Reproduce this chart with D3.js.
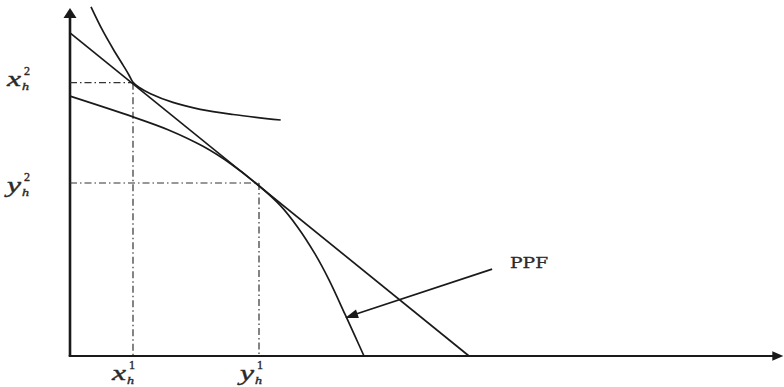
<!DOCTYPE html>
<html>
<head>
<meta charset="utf-8">
<script src="https://cdn.jsdelivr.net/npm/d3@7"></script>
<style>
  html, body { margin: 0; padding: 0; background: #fff; }
  svg { display: block; }
</style>
</head>
<body>
<svg id="chart" width="784" height="387"></svg>
<script>
// ---- Data (in abstract chart units 0..100) ----
const axisExtent = { x: 101.9, y: 100.6 };

// Budget / price line
const budgetLine = [[0, 93.4], [57.0, 0]];

// Production possibility frontier (concave)
const ppfX = [0, 9.0, 14.0, 19.0, 23.0, 27.0, 30.0, 32.5, 35.0, 37.0, 39.3, 40.7, 42.0];
const ppfY = [75.1, 69.1, 65.4, 60.6, 55.5, 49.2, 43.6, 37.3, 29.5, 22.0, 12.0, 5.8, 0];

// Indifference curve
const icX = [3.0, 4.6, 6.2, 7.6, 8.4, 9.0, 9.9, 11.5, 14.7, 18.6, 23.3, 30.1];
const icY = [100.9, 94.3, 88.6, 84.0, 81.3, 79.1, 77.6, 75.8, 73.3, 71.3, 69.8, 68.2];

// Tangency points (consumption x_h, production y_h)
const tangentX = [9.0, 27.0];        // x_h^1, y_h^1 on horizontal axis
const tangentY = [79.0, 50.0];       // x_h^2, y_h^2 on vertical axis
const xTickLabels = [{ main: "x", sup: "1" }, { main: "y", sup: "1" }];
const yTickLabels = [{ main: "x", sup: "2" }, { main: "y", sup: "2" }];

// PPF annotation arrow: from label to curve
const ppfArrow = [[60.3, 25.1], [39.3, 11.0]];
const ppfLabel = "PPF";

// ---- Scales ----
const svg = d3.select("#chart");
const x = d3.scaleLinear().domain([0, 100]).range([70, 770]);
const y = d3.scaleLinear().domain([0, 100]).range([356, 10]);

const ink = "#1a1a1a";

function arrowHead(x1, y1, x2, y2, len, half) {
  const a = Math.atan2(y2 - y1, x2 - x1);
  const bx = x2 - len * Math.cos(a), by = y2 - len * Math.sin(a);
  const px = -Math.sin(a) * half, py = Math.cos(a) * half;
  return `M${x2},${y2}L${bx + px},${by + py}L${bx - px},${by - py}Z`;
}

// ---- Axes ----
svg.append("line")
  .attr("x1", x(0)).attr("y1", y(0)).attr("x2", x(0)).attr("y2", y(axisExtent.y) + 6)
  .attr("stroke", ink).attr("stroke-width", 2.6);
svg.append("path")
  .attr("d", arrowHead(x(0), y(0), x(0), y(axisExtent.y), 10, 6.5))
  .attr("fill", ink);

svg.append("line")
  .attr("x1", x(0) - 1.3).attr("y1", y(0)).attr("x2", x(axisExtent.x) - 6).attr("y2", y(0))
  .attr("stroke", ink).attr("stroke-width", 2);
svg.append("path")
  .attr("d", arrowHead(x(0), y(0), x(axisExtent.x), y(0), 11, 4.8))
  .attr("fill", ink);

// ---- Guide lines (dash-dot) ----
const dash = "7,3,1.5,3";
tangentX.forEach((tx, i) => {
  const ty = tangentY[i];
  svg.append("line")
    .attr("x1", x(0)).attr("y1", y(ty)).attr("x2", x(tx)).attr("y2", y(ty))
    .attr("stroke", "#333").attr("stroke-width", 1.2).attr("stroke-dasharray", dash);
  svg.append("line")
    .attr("x1", x(tx)).attr("y1", y(ty)).attr("x2", x(tx)).attr("y2", y(0))
    .attr("stroke", "#333").attr("stroke-width", 1.2).attr("stroke-dasharray", dash);
});

// ---- Curves ----
const line = d3.line().x(d => x(d[0])).y(d => y(d[1]));
const smooth = d3.line().x(d => x(d[0])).y(d => y(d[1])).curve(d3.curveCatmullRom.alpha(0.5));

svg.append("path").attr("d", line(budgetLine))
  .attr("fill", "none").attr("stroke", ink).attr("stroke-width", 1.7);

svg.append("path").attr("d", smooth(ppfX.map((v, i) => [v, ppfY[i]])))
  .attr("fill", "none").attr("stroke", ink).attr("stroke-width", 1.7);

svg.append("path").attr("d", smooth(icX.map((v, i) => [v, icY[i]])))
  .attr("fill", "none").attr("stroke", ink).attr("stroke-width", 1.7);

// ---- PPF annotation ----
const [a0, a1] = ppfArrow;
svg.append("line")
  .attr("x1", x(a0[0])).attr("y1", y(a0[1]))
  .attr("x2", x(a1[0]) + 8).attr("y2", y(a1[1]) - 3)
  .attr("stroke", ink).attr("stroke-width", 1.7);
svg.append("path")
  .attr("d", arrowHead(x(a0[0]), y(a0[1]), x(a1[0]), y(a1[1]), 13, 4.5))
  .attr("fill", ink);
svg.append("text")
  .attr("x", x(a0[0]) + 18).attr("y", y(a0[1]) - 1)
  .attr("font-family", "'DejaVu Serif', 'Liberation Serif', serif")
  .attr("font-size", 14)
  .attr("textLength", 38).attr("lengthAdjust", "spacingAndGlyphs")
  .attr("fill", "#2a2a2a")
  .attr("stroke", "#2a2a2a").attr("stroke-width", 0.3)
  .text(ppfLabel);

// ---- Math labels ----
const serif = "'Liberation Serif', 'DejaVu Serif', serif";
function mathLabel(x0, base, lab) {
  const g = svg.append("g").attr("fill", "#2a2a2a").attr("stroke", "#2a2a2a").attr("stroke-width", 0.4);
  g.append("text").attr("x", x0).attr("y", base)
    .attr("font-family", serif).attr("font-style", "italic").attr("font-size", 22)
    .attr("textLength", 14).attr("lengthAdjust", "spacingAndGlyphs")
    .text(lab.main);
  g.append("text").attr("x", x0 + 17).attr("y", base - 11)
    .attr("font-family", serif).attr("font-size", 12)
    .attr("textLength", 6).attr("lengthAdjust", "spacingAndGlyphs")
    .text(lab.sup);
  g.append("text").attr("x", x0 + 15).attr("y", base + 4)
    .attr("font-family", serif).attr("font-style", "italic").attr("font-size", 11)
    .attr("textLength", 7).attr("lengthAdjust", "spacingAndGlyphs")
    .text("h");
}
// vertical-axis labels
tangentY.forEach((ty, i) => mathLabel(7, y(ty) + 3 + (i === 1 ? 6 : 0), yTickLabels[i]));
// horizontal-axis labels
tangentX.forEach((tx, i) => mathLabel(x(tx) - 21 + (i === 1 ? 2 : 0), y(0) + 24, xTickLabels[i]));
</script>
</body>
</html>
